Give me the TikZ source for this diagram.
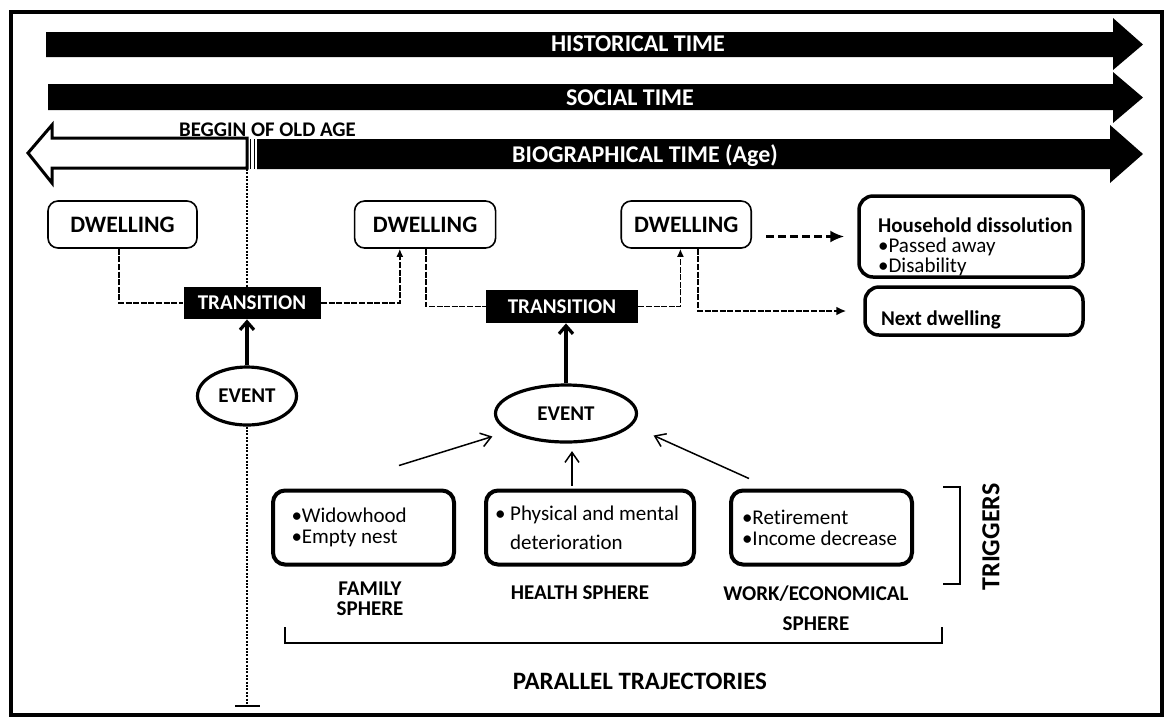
\documentclass[tikz,border=0pt]{standalone}
\usepackage{fontspec}
\setmainfont[Ligatures=NoCommon]{Carlito}
\usetikzlibrary{positioning, shapes.geometric, arrows.meta}
\tikzset{
timebar/.style={fill=black}, % the three black time arrows
timetext/.style={text=white, font=\bfseries\fontsize{12}{14}\selectfont}, % labels on the time arrows
dwelling/.style={draw, line width=0.8pt, rounded corners=5pt, minimum height=23.5pt, font=\bfseries\fontsize{11.8}{13}\selectfont},
transition/.style={fill=black, text=white, minimum height=16pt, font=\bfseries\fontsize{10.5}{12}\selectfont},
event/.style={ellipse, draw, line width=1.6pt, inner sep=0pt, font=\bfseries\fontsize{10.5}{12}\selectfont},
sphere/.style={draw, line width=2pt, rounded corners=6pt, align=flush left, minimum height=37pt, font=\fontsize{10.5}{10.5}\selectfont}, % trigger boxes
outbox/.style={draw, line width=1.75pt, rounded corners=7pt}, % where the dwelling ends
caption/.style={align=center, font=\bfseries\fontsize{10.5}{10}\selectfont},
link/.style={line width=0.8pt, dash pattern=on 3pt off 0.8pt}, % dashed path between dwellings
tip/.style={-{Latex[length=4pt,width=3.5pt]}},
push/.style={line width=1.6pt, -{Straight Barb[length=4pt,width=7pt]}}, % event -> transition
trigger/.style={line width=0.75pt, -{Straight Barb[length=5pt,width=7pt]}},
agedots/.style={line width=1pt, dash pattern=on 1pt off 0.7pt},
bracket/.style={line width=0.75pt},
}

\begin{document}
\begin{tikzpicture}[x=0.5pt, y=-0.5pt]
\useasboundingbox (0,0) rectangle (1168,720);
\draw[line width=2pt] (11,12) rectangle (1162,715);

% time arrows
\fill[timebar] (46,32) -- (1113,32) -- (1113,18) -- (1143,44.5) -- (1113,70) -- (1113,57) -- (46,57) -- cycle;
\fill[timebar] (48,84) -- (1113,84) -- (1113,72) -- (1143,97.5) -- (1113,123) -- (1113,110) -- (48,110) -- cycle;
\draw[line width=1.5pt, fill=white] (247,138) -- (52,138) -- (52,125) -- (28,153) -- (52,183) -- (52,168) -- (247,168) -- cycle;
\fill[timebar] (257,139) -- (1110,139) -- (1110,125) -- (1143,154) -- (1110,183) -- (1110,169) -- (257,169) -- cycle;
\draw[line width=0.4pt] (250,139) -- (250,169) (254,139) -- (254,169);
\node[timetext] (hist) at (638,44) {HISTORICAL TIME};
\node[timetext] (social) at (630,98) {SOCIAL TIME};
\node[timetext] (bio) at (645,156) {BIOGRAPHICAL TIME (Age)};
\node[font=\bfseries\fontsize{10.4}{12}\selectfont] (oldlabel) at (267.5,130) {BEGGIN OF OLD AGE};
\coordinate (oldage) at (247,169);
\coordinate (oldend) at (247,707);

% dwellings and transitions
\node[dwelling, minimum width=74.5pt] (d1) at (122.5,224.5) {DWELLING};
\node[dwelling, minimum width=70.5pt, right=78pt of d1] (d2) {DWELLING};
\node[dwelling, minimum width=65pt, right=62pt of d2] (d3) {DWELLING};
\node[transition, minimum width=68.5pt] (t1) at (252,303) {TRANSITION};
\node[transition, minimum width=76pt, minimum height=16.5pt] (t2) at (562,306.5) {TRANSITION};
\node[event, minimum width=49.5pt, minimum height=29pt, below=23pt of t1, xshift=-2.5pt] (e1) {EVENT};
\node[event, minimum width=70.5pt, minimum height=28.5pt, below=30pt of t2, xshift=2pt] (e2) {EVENT};

\node[outbox, minimum width=112pt, minimum height=40.5pt] (hh) at (971,236.5) {};
\node[anchor=west, align=left, font=\fontsize{10.5}{10}\selectfont] (hhtext) at (871,247) {{\bfseries Household dissolution}\\\textbullet Passed away\\\textbullet Disability};
\node[outbox, minimum width=109pt, minimum height=24pt, text width=93pt, inner xsep=8pt, inner ysep=0pt, text height=16pt, align=flush left, font=\bfseries\fontsize{10.5}{12}\selectfont] (next) at (974,311) {Next dwelling};

% triggers
\node[sphere, text width=95pt, inner xsep=4.5pt, font=\fontsize{10.5}{14.5}\selectfont] (health) at (590,527.5) {\textbullet\ Physical and mental\\\phantom{\textbullet\ }deterioration};
\node[sphere, text width=72pt, inner xsep=9.25pt, left=14pt of health] (family) {\textbullet Widowhood\\\textbullet Empty nest};
\node[sphere, text width=79.5pt, inner xsep=5.5pt, right=16.5pt of health] (work) {\textbullet Retirement\\\textbullet Income decrease};
\node[caption] (famcap) at (370,599) {FAMILY\\SPHERE};
\node[caption] (healthcap) at (580,593) {HEALTH SPHERE};
\node[caption, font=\bfseries\fontsize{10.5}{15}\selectfont] (workcap) at (816,608) {WORK/ECONOMICAL\\SPHERE};
\node[font=\bfseries\fontsize{12.5}{14}\selectfont] (parallel) at (640,681) {PARALLEL TRAJECTORIES};
\node[rotate=90, font=\bfseries\fontsize{13}{15}\selectfont] (triggers) at (991,537) {TRIGGERS};
\draw[bracket] (285,627) -- (285,643) -- (942,643) -- (942,627);
\draw[bracket] (943,487) -- (960,487) -- (960,584) -- (943,584);

% connectors
\draw[agedots] (oldage) -- (oldage |- t1.north);
\draw[agedots, -{Bar[width=12.5pt]}] (oldage |- e1.south) -- (oldend);
\draw[push] (e1.north) -- (e1.north |- t1.south);
\draw[push] (e2.north) -- (e2.north |- t2.south);
\draw[link] ([xshift=-1.75pt]d1.south) |- (t1.west);
\draw[link, tip] (t1.east) -| ([xshift=23pt]d2.south west);
\draw[link] ([xshift=36pt]d2.south west) |- (t2.west);
\draw[link, tip] (t2.east) -| ([xshift=30pt]d3.south west);
\draw[link, line width=1pt, -{Latex[length=5pt,width=4.5pt]}, shorten >=8.5pt] ([xshift=39pt]d3.south west) |- (next.west);
\draw[line width=1.2pt, dash pattern=on 4pt off 2pt, -{Latex[length=7pt,width=6pt]}, shorten <=7pt, shorten >=6.5pt] (d3.east |- hh.west) -- (hh.west);
\draw[trigger] ([xshift=17.75pt,yshift=11.5pt]family.north) -- ([xshift=-0.75pt,yshift=-11.5pt]e2.west);
\draw[trigger] ([xshift=-9pt,yshift=1.5pt]health.north) -- ([xshift=3pt,yshift=-3.75pt]e2.south);
\draw[trigger] ([xshift=10pt,yshift=5pt]work.north west) -- ([xshift=7.75pt,yshift=-11pt]e2.east);
\end{tikzpicture}
\end{document}
